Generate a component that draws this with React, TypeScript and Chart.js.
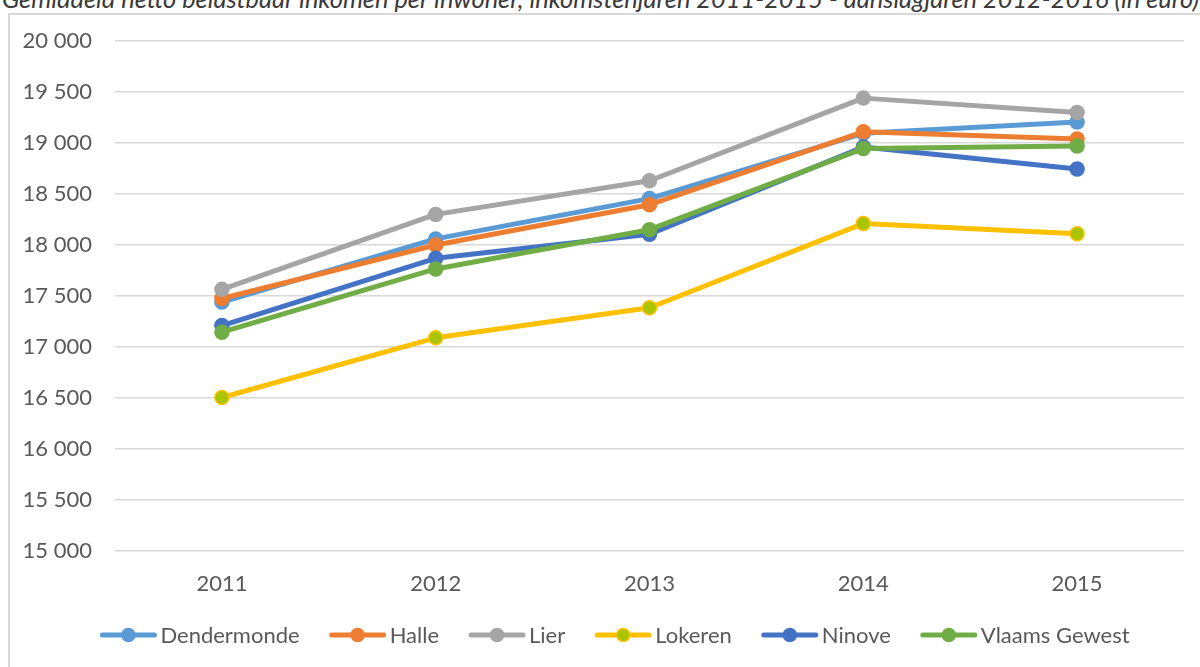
import { useEffect, useRef } from 'react';
import { Chart, registerables } from 'chart.js';

Chart.register(...registerables);

const titleText =
  'Gemiddeld netto belastbaar inkomen per inwoner, inkomstenjaren 2011-2015 - aanslagjaren 2012-2016 (in euro)';

const years = ['2011', '2012', '2013', '2014', '2015'];
const seriesNames = ['Dendermonde', 'Halle', 'Lier', 'Lokeren', 'Ninove', 'Vlaams Gewest'];

const dendermonde = [17440, 18060, 18455, 19095, 19205];
const halle = [17475, 18000, 18395, 19110, 19040];
const lier = [17565, 18300, 18630, 19440, 19300];
const lokeren = [16505, 17090, 17385, 18210, 18110];
const ninove = [17210, 17870, 18105, 18960, 18745];
const vlaamsGewest = [17145, 17765, 18150, 18945, 18970];

const seriesValues = [dendermonde, halle, lier, lokeren, ninove, vlaamsGewest];
const lineColors = ['#5B9BD5', '#ED7D31', '#A5A5A5', '#FFC000', '#4472C4', '#70AD47'];
const pointFills = ['#5B9BD5', '#ED7D31', '#A5A5A5', '#A9C400', '#4472C4', '#70AD47'];

const yMin = 15000;
const yMax = 20000;
const yStep = 500;

const FONT = 'Lato, "Open Sans", sans-serif';
const TEXT_COLOR = '#595959';

const formatThousands = (v: number) =>
  String(Math.round(v)).replace(/\B(?=(\d{3})+(?!\d))/g, ' ');

const legendPlugin = {
  id: 'excelLegend',
  afterDraw(chart: any) {
    const ctx = chart.ctx as CanvasRenderingContext2D;
    const y = 635;
    const lineW = 56;
    const gapText = 4;
    const gapItem = 30;
    ctx.save();
    ctx.font = `22px ${FONT}`;
    const items = chart.data.datasets.map((ds: any) => ({
      label: ds.label as string,
      color: ds.borderColor as string,
      fill: ds.pointBackgroundColor as string,
      w: ctx.measureText(ds.label).width,
    }));
    const total =
      items.reduce((s: number, it: any) => s + lineW + gapText + it.w, 0) +
      gapItem * (items.length - 1);
    let x = 615 - total / 2;
    for (const it of items) {
      ctx.strokeStyle = it.color;
      ctx.lineWidth = 5;
      ctx.lineCap = 'round';
      ctx.beginPath();
      ctx.moveTo(x + 2, y);
      ctx.lineTo(x + lineW - 2, y);
      ctx.stroke();
      ctx.beginPath();
      ctx.arc(x + lineW / 2, y, 6.5, 0, Math.PI * 2);
      ctx.fillStyle = it.fill;
      ctx.fill();
      ctx.lineWidth = 1.5;
      ctx.strokeStyle = it.color;
      ctx.stroke();
      ctx.fillStyle = TEXT_COLOR;
      ctx.textBaseline = 'middle';
      ctx.textAlign = 'left';
      ctx.fillText(it.label, x + lineW + gapText, y + 1);
      x += lineW + gapText + it.w + gapItem;
    }
    ctx.restore();
  },
};

export default function App() {
  const canvasRef = useRef<HTMLCanvasElement | null>(null);

  useEffect(() => {
    if (!canvasRef.current) return;
    const n = seriesNames.length;
    const chart = new Chart(canvasRef.current, {
      type: 'line',
      data: {
        labels: years,
        datasets: seriesNames.map((name, i) => ({
          label: name,
          data: seriesValues[i],
          borderColor: lineColors[i],
          backgroundColor: lineColors[i],
          pointBackgroundColor: pointFills[i],
          pointBorderColor: lineColors[i],
          pointBorderWidth: 1.5,
          pointRadius: 7,
          borderWidth: 5,
          borderJoinStyle: 'round' as const,
          borderCapStyle: 'round' as const,
          tension: 0,
          fill: false,
          order: n - 1 - i,
        })),
      },
      options: {
        responsive: false,
        animation: false,
        devicePixelRatio: 1,
        layout: { padding: { top: 41, right: 16, left: 0, bottom: 0 } },
        plugins: {
          legend: { display: false },
          title: { display: false },
          tooltip: { enabled: false },
        },
        scales: {
          x: {
            offset: true,
            grid: { display: false, drawTicks: false },
            border: { display: false },
            ticks: {
              color: TEXT_COLOR,
              font: { family: FONT, size: 22 },
              padding: 20,
              maxRotation: 0,
            },
            afterFit: (scale: any) => {
              scale.height = 116;
            },
          },
          y: {
            min: yMin,
            max: yMax,
            grid: { color: '#D9D9D9', lineWidth: 1.5, drawTicks: false },
            border: { display: false },
            ticks: {
              stepSize: yStep,
              color: TEXT_COLOR,
              font: { family: FONT, size: 22 },
              padding: 23,
              callback: (v: any) => formatThousands(Number(v)),
            },
            afterFit: (scale: any) => {
              scale.width = 115;
            },
          },
        },
      },
      plugins: [legendPlugin],
    });
    return () => chart.destroy();
  }, []);

  return (
    <div
      style={{
        position: 'absolute',
        left: 0,
        top: 0,
        width: 1200,
        height: 667,
        overflow: 'hidden',
        background: '#FFFFFF',
      }}
    >
      <div
        style={{
          position: 'absolute',
          left: 2,
          top: -17,
          whiteSpace: 'nowrap',
          fontFamily: FONT,
          fontStyle: 'italic',
          fontSize: 25.4,
          lineHeight: '30px',
          color: '#3A3A3A',
        }}
      >
        {titleText}
      </div>
      <div
        style={{
          position: 'absolute',
          left: 8,
          top: 13,
          width: 1250,
          height: 720,
          border: '2px solid #D9D9D9',
          boxSizing: 'border-box',
        }}
      />
      <canvas
        ref={canvasRef}
        width={1200}
        height={667}
        style={{ position: 'absolute', left: 0, top: 0, width: 1200, height: 667 }}
      />
    </div>
  );
}
